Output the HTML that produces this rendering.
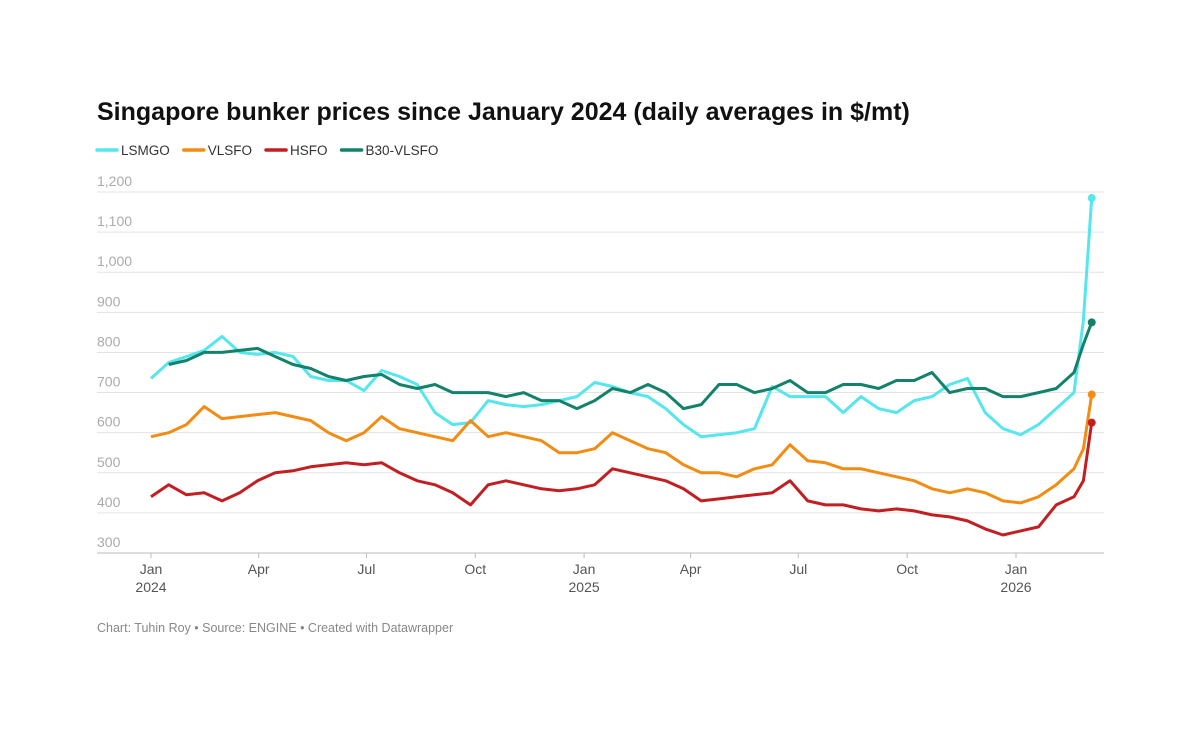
<!DOCTYPE html>
<html><head><meta charset="utf-8"><style>
body{margin:0;background:#fff;font-family:"Liberation Sans",sans-serif;}
#wrap{position:relative;width:1200px;height:732px;}
</style></head><body>
<div id="wrap">
<svg id="chart" width="1200" height="732"></svg>
</div>
<script>
const dayStep = 15;
const tailDays = [788, 795];
const lsmgo = [735,775,790,805,840,800,795,800,790,740,730,730,705,755,740,720,650,620,625,680,670,665,670,680,690,725,715,700,690,660,620,590,595,600,610,715,690,690,690,650,690,660,650,680,690,720,735,650,610,595,620,660,700,880,1185];
const vlsfo = [590,600,620,665,635,640,645,650,640,630,600,580,600,640,610,600,590,580,630,590,600,590,580,550,550,560,600,580,560,550,520,500,500,490,510,520,570,530,525,510,510,500,490,480,460,450,460,450,430,425,440,470,510,560,695];
const hsfo = [440,470,445,450,430,450,480,500,505,515,520,525,520,525,500,480,470,450,420,470,480,470,460,455,460,470,510,500,490,480,460,430,435,440,445,450,480,430,420,420,410,405,410,405,395,390,380,360,345,355,365,420,440,480,625];
const b30 = [null,770,780,800,800,805,810,790,770,760,740,730,740,745,720,710,720,700,700,700,690,700,680,680,660,680,710,700,720,700,660,670,720,720,700,710,730,700,700,720,720,710,730,730,750,700,710,710,690,690,700,710,750,820,875];
const yTicks = [300,400,500,600,700,800,900,1000,1100,1200];
const xTickLabels = [["Jan","2024"],["Apr",""],["Jul",""],["Oct",""],["Jan","2025"],["Apr",""],["Jul",""],["Oct",""],["Jan","2026"]];
const xTickDays = [0,91,182,274,366,456,547,639,731];
const seriesNames = ["LSMGO","VLSFO","HSFO","B30-VLSFO"];

const colors = ["#55e6ee","#f28c12","#c21f22","#13826b"];
const svg = document.getElementById('chart');
const NS = "http://www.w3.org/2000/svg";
function x(d){return 151 + d*(1016-151)/731;}
function y(v){return 553 - (v-300)*(553-192)/900;}
function mk(tag, attrs){const e=document.createElementNS(NS,tag);for(const k in attrs)e.setAttribute(k,attrs[k]);svg.appendChild(e);return e;}

let t = mk('text',{x:97,y:120,'font-size':'25','font-weight':'bold',fill:'#111'});
t.textContent = "Singapore bunker prices since January 2024 (daily averages in $/mt)";



let lx = 97;
seriesNames.forEach((n,i)=>{
  const ln = mk('line',{x1:lx,y1:150,x2:lx+20,y2:150,stroke:colors[i],'stroke-width':3.5,'stroke-linecap':'round'});
  
  
  const tx = mk('text',{x:lx+24,y:155,'font-size':'13.5',fill:'#333'});
  tx.textContent = n;
  
  
  lx += 24 + tx.getComputedTextLength() + 14;
});

yTicks.forEach(v=>{
  const g = mk('line',{x1:97,y1:y(v),x2:1104,y2:y(v),stroke:v===300?'#bbb':'#e3e3e3','stroke-width':1});
  
  
  const tx = mk('text',{x:97,y:y(v)-6,'font-size':'14',fill:'#aaa'});
  tx.textContent = v.toLocaleString('en-US');
  
  
});

xTickDays.forEach((d,i)=>{
  const tk = mk('line',{x1:x(d),y1:553,x2:x(d),y2:558,stroke:'#bbb'});
  
  
  xTickLabels[i].forEach((s,j)=>{
    if(!s)return;
    const tx = mk('text',{x:x(d),y:574+j*18,'font-size':'14','text-anchor':'middle',fill:'#555'});
    tx.textContent = s;
    
    
  });
});

function dayOf(i, len){const base = len-tailDays.length; return i<base ? i*dayStep : tailDays[i-base];}
[lsmgo,vlsfo,hsfo,b30].forEach((arr,si)=>{
  let d='';
  arr.forEach((v,i)=>{ if(v===null)return; d += (d?'L':'M')+x(dayOf(i,arr.length)).toFixed(1)+','+y(v).toFixed(1); });
  const p = mk('path',{d:d,fill:'none',stroke:colors[si],'stroke-width':3,'stroke-linejoin':'round'});
  
  
  const li = arr.length-1;
  const c = mk('circle',{cx:x(dayOf(li,arr.length)),cy:y(arr[li]),r:4,fill:colors[si]});
  
  
});

const f = mk('text',{x:97,y:632,'font-size':'12.5',fill:'#888'});
f.textContent = "Chart: Tuhin Roy • Source: ENGINE • Created with Datawrapper";


</script>
</body></html>
